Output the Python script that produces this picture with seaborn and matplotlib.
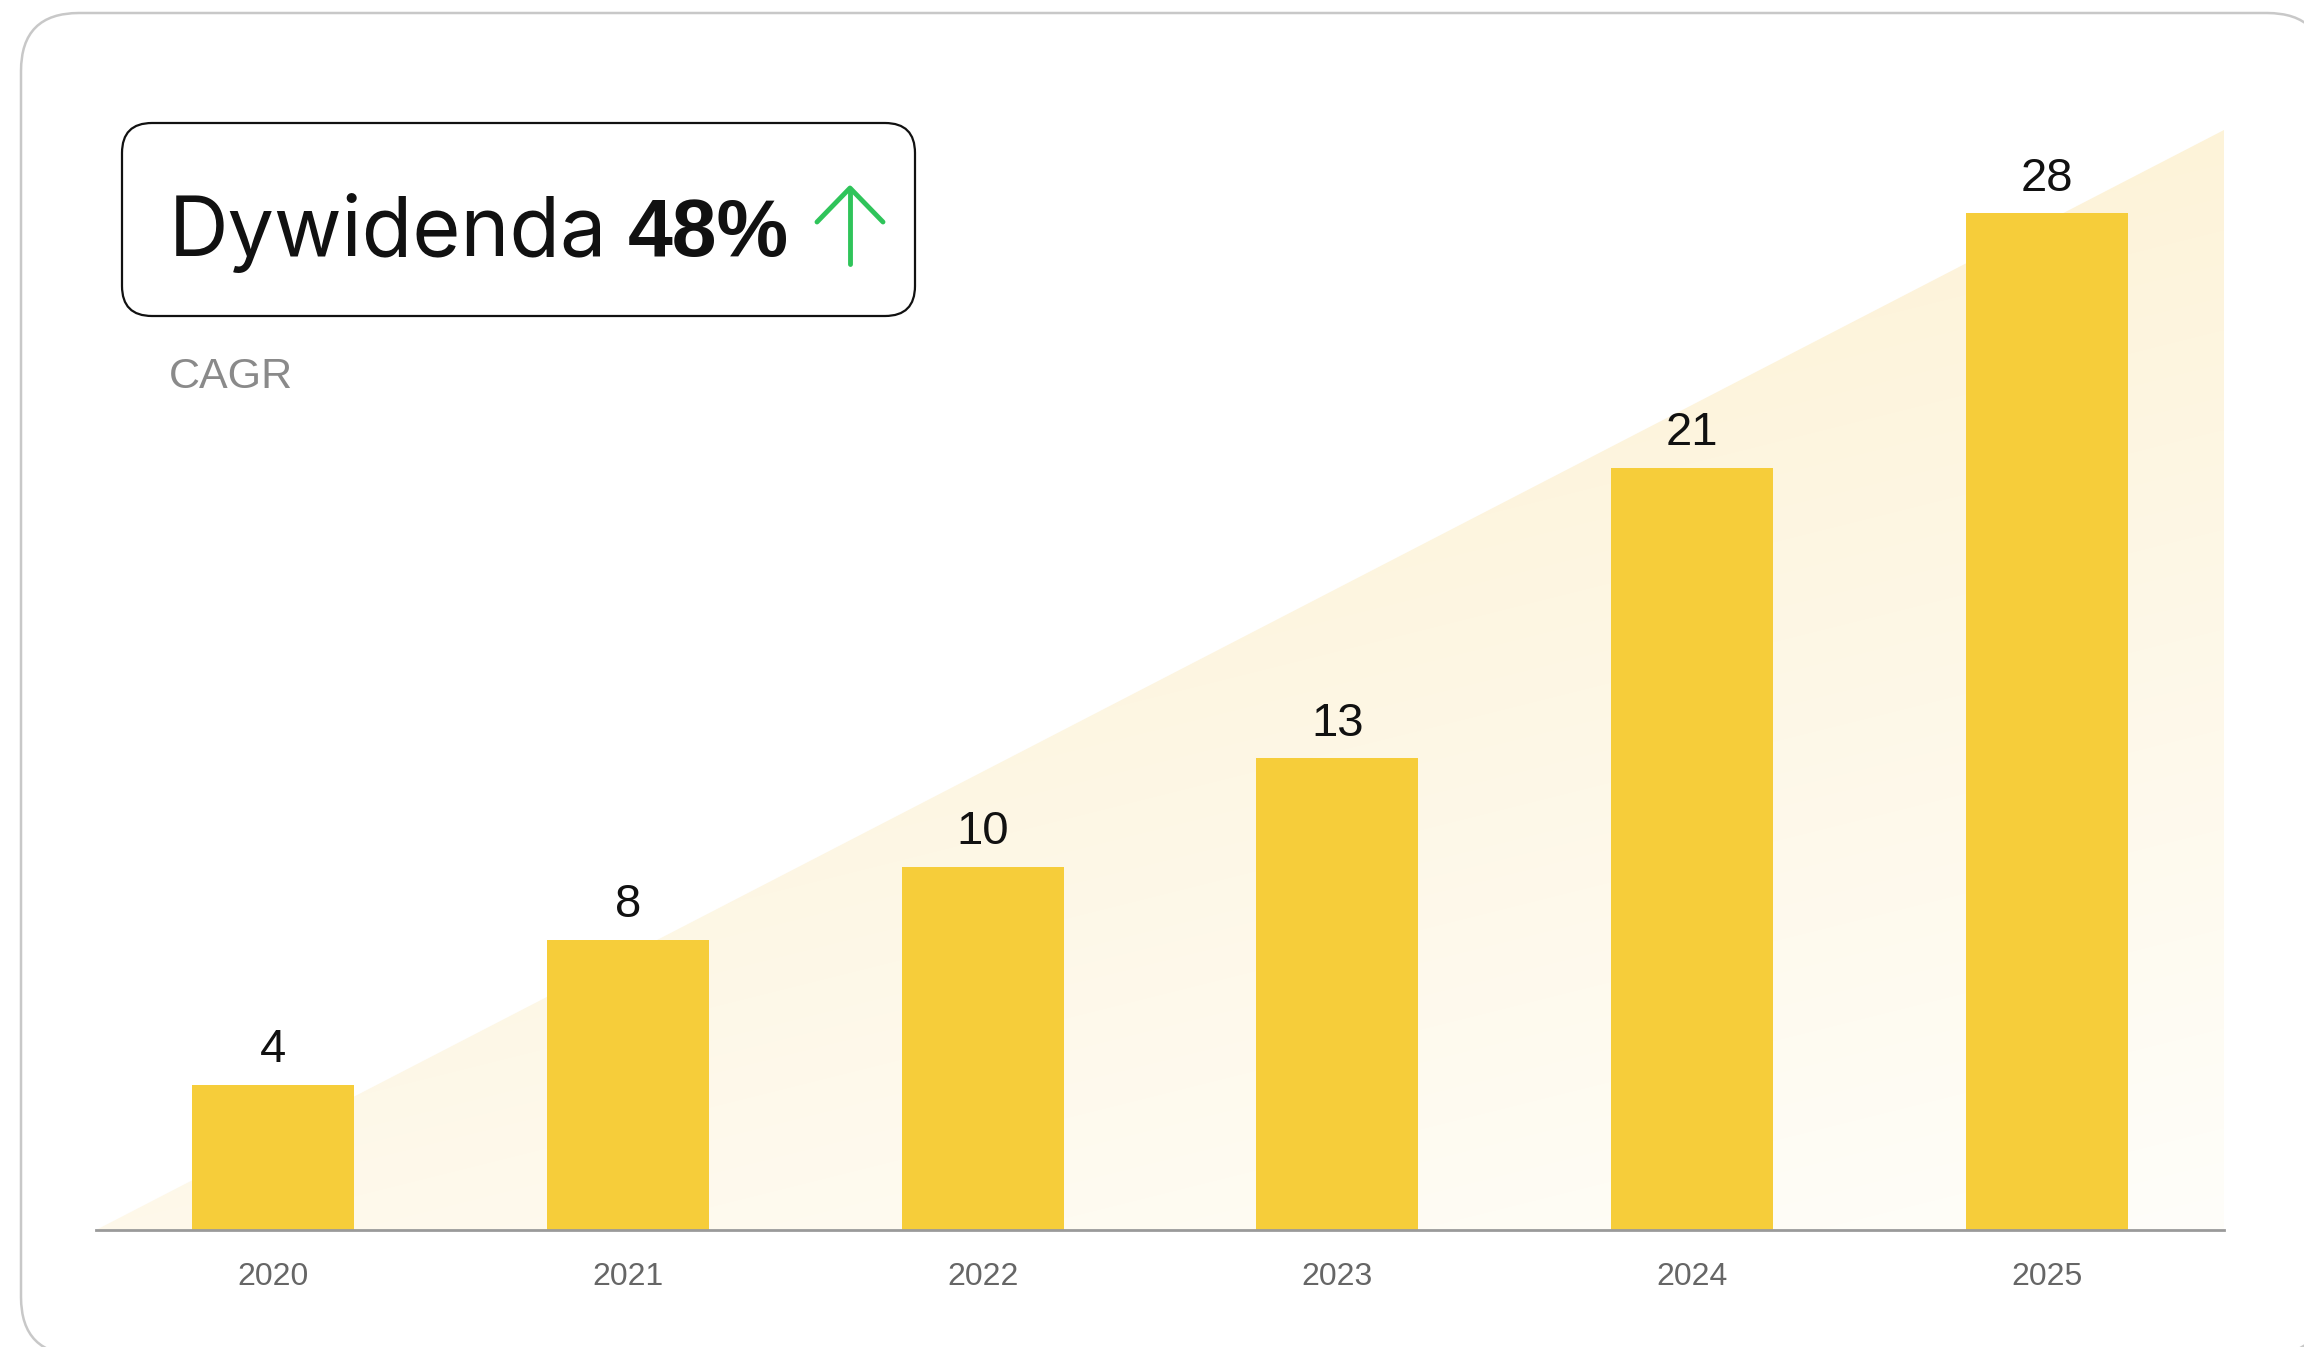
import numpy as np
import matplotlib
import matplotlib.pyplot as plt
import seaborn as sns
from matplotlib.patches import FancyBboxPatch, Polygon

sns.set_theme(style="white")
plt.rcParams["font.family"] = ["Liberation Sans", "DejaVu Sans"]

# data
years = ["2020", "2021", "2022", "2023", "2024", "2025"]
dividend = [4, 8, 10, 13, 21, 28]
title = "Dywidenda"
cagr_value = "48%"
subtitle = "CAGR"

bar_color = "#F6CD3A"

fig = plt.figure(figsize=(23.04, 13.47), dpi=100)

# background layer in pixel coords (card + header box)
bg = fig.add_axes([0, 0, 1, 1])
bg.set_xlim(0, 2304)
bg.set_ylim(1347, 0)
bg.axis("off")

bg.add_patch(FancyBboxPatch((21, 13), 2304, 1342, boxstyle="round,pad=0,rounding_size=58",
                            fc="white", ec="#c8c8c8", lw=1.8))
bg.add_patch(FancyBboxPatch((122, 123), 793, 193, boxstyle="round,pad=0,rounding_size=30",
                            fc="white", ec="#111111", lw=1.6))
t1 = bg.text(169, 256, title, fontsize=59.5, color="#111111", va="baseline",
             family=["Inter", "DejaVu Sans"])
bg.annotate(cagr_value, xy=(1, 0), xycoords=t1, xytext=(15, 0), textcoords="offset points",
            fontsize=58, fontweight="bold", color="#111111", va="bottom", ha="left")
# green up arrow
bg.plot([850, 850], [264, 189], color="#2fc45a", lw=3.5, solid_capstyle="round")
bg.plot([817, 850, 883], [222, 188, 222], color="#2fc45a", lw=3.5,
        solid_capstyle="round", solid_joinstyle="round")
bg.text(169, 388, subtitle, fontsize=31, color="#8a8a8a", va="baseline")

# main chart
ax = fig.add_axes([96 / 2304, (1347 - 1230) / 1347, 2128 / 2304, 1100 / 1347])
ax.patch.set_alpha(0)

# soft gradient triangle behind the bars
u, v = np.meshgrid(np.linspace(0, 1, 400), np.linspace(0, 1, 400))
t = np.clip((568 - (1100 * v - 532 * u)) / 1100, 0, 1)[..., None]
c0 = np.array(matplotlib.colors.to_rgb("#FDF3D9"))
c1 = np.array(matplotlib.colors.to_rgb("#FFFEFA"))
img = c0 * (1 - t) + c1 * t
im = ax.imshow(img, extent=(0, 1, 0, 1), transform=ax.transAxes, origin="lower",
               aspect="auto", zorder=0, interpolation="bilinear")
tri = Polygon([(0, 0), (1, 1), (1, 0)], closed=True, transform=ax.transAxes)
im.set_clip_path(tri)

sns.barplot(x=years, y=dividend, color=bar_color, saturation=1, width=0.457,
            linewidth=0, ax=ax, zorder=2)
ax.bar_label(ax.containers[0], padding=9, fontsize=34, color="#111111")

ax.set_xlim(-0.5, 5.5)
ax.set_ylim(0, 30.3)
sns.despine(ax=ax, left=True)
ax.spines["bottom"].set_color("#9a9a9a")
ax.spines["bottom"].set_linewidth(2)
ax.spines["bottom"].set_zorder(3)
ax.set_yticks([])
ax.tick_params(axis="x", length=0, pad=23, labelsize=23, labelcolor="#666666")
ax.set_xlabel("")
ax.set_ylabel("")

fig.savefig("out.png", dpi=100)
